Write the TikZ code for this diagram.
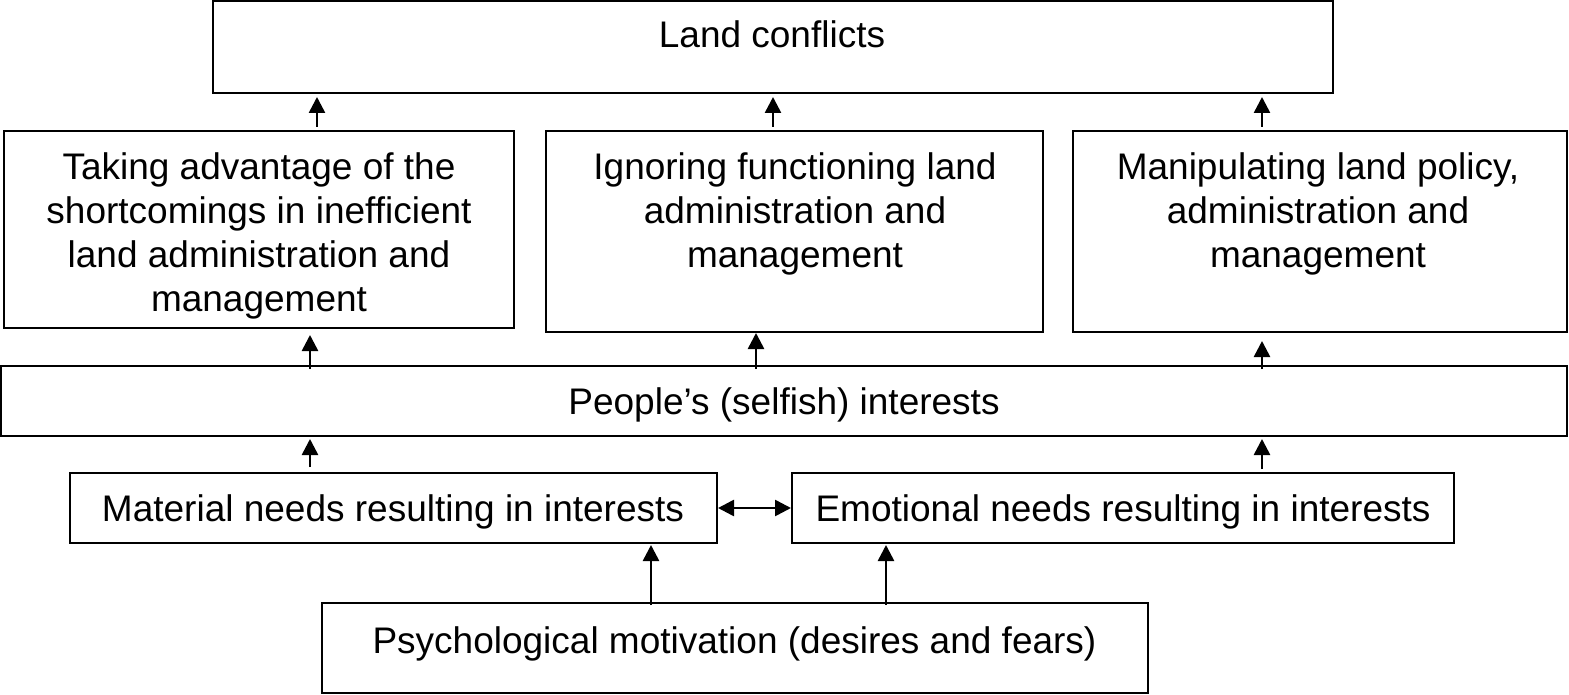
\documentclass[tikz,border=0pt]{standalone}
\usepackage{fontspec}
\setmainfont{Liberation Sans}
\usetikzlibrary{arrows.meta}
\begin{document}
\begin{tikzpicture}[x=1pt,y=-1pt,
  box/.style={draw, line width=2pt, inner sep=0pt},
  txt/.style={font=\fontsize{37}{44}\selectfont, align=center, inner sep=0pt},
  arr/.style={line width=2.6pt, -{Triangle[width=16pt,length=16pt]}},
  darr/.style={line width=2.6pt, {Triangle[width=16pt,length=16pt]}-{Triangle[width=16pt,length=16pt]}}]
\useasboundingbox (0,0) rectangle (1569,695);
% boxes
\node[box, minimum width=1120pt, minimum height=92pt] (land) at (773,47) {};
\node[box, minimum width=510pt, minimum height=197pt] (b1) at (259,229.5) {};
\node[box, minimum width=497pt, minimum height=201pt] (b2) at (794.5,231.5) {};
\node[box, minimum width=494pt, minimum height=201pt] (b3) at (1320,231.5) {};
\node[box, minimum width=1566pt, minimum height=70pt] (ppl) at (784,401) {};
\node[box, minimum width=647pt, minimum height=70pt] (mat) at (393.5,508) {};
\node[box, minimum width=662pt, minimum height=70pt] (emo) at (1123,508) {};
\node[box, minimum width=826pt, minimum height=90pt] (psy) at (735,648) {};
% texts
\node[txt, anchor=base] (tland) at (772,48) {Land conflicts};
\node[txt] (tb1) at (259,235.5) {Taking advantage of the\\shortcomings in inefficient\\land administration and\\management};
\node[txt] (tb2) at (795,213.5) {Ignoring functioning land\\administration and\\management};
\node[txt] (tb3) at (1318,213.5) {Manipulating land policy,\\administration and\\management};
\node[txt, anchor=base] (tppl) at (784,414) {People’s (selfish) interests};
\node[txt, anchor=base] (tmat) at (393,521) {Material needs resulting in interests};
\node[txt, anchor=base] (temo) at (1123,521) {Emotional needs resulting in interests};
\node[txt, anchor=base] (tpsy) at (734.5,653) {Psychological motivation (desires and fears)};
% arrow x positions
\coordinate (xa) at (317,0);
\coordinate (xb) at (773,0);
\coordinate (xc) at (1262,0);
\coordinate (xd) at (310,0);
\coordinate (xe) at (756,0);
\coordinate (xg) at (651,0);
\coordinate (xh) at (886,0);
% arrows
\draw[arr, shorten <=3pt, shorten >=3pt] (b1.north -| xa) -- (land.south -| xa);
\draw[arr, shorten <=3pt, shorten >=3pt] (b2.north -| xb) -- (land.south -| xb);
\draw[arr, shorten <=3pt, shorten >=3pt] (b3.north -| xc) -- (land.south -| xc);
\draw[arr, shorten <=-4pt, shorten >=6pt] (ppl.north -| xd) -- (b1.south -| xd);
\draw[arr, shorten <=-4pt, shorten >=0pt] (ppl.north -| xe) -- (b2.south -| xe);
\draw[arr, shorten <=-4pt, shorten >=8pt] (ppl.north -| xc) -- (b3.south -| xc);
\draw[arr, shorten <=5pt, shorten >=2pt] (mat.north -| xd) -- (ppl.south -| xd);
\draw[arr, shorten <=3pt, shorten >=2pt] (emo.north -| xc) -- (ppl.south -| xc);
\draw[arr, shorten <=-3pt, shorten >=1pt] (psy.north -| xg) -- (mat.south -| xg);
\draw[arr, shorten <=-3pt, shorten >=1pt] (psy.north -| xh) -- (emo.south -| xh);
\draw[darr] (mat.east) -- (emo.west);
\end{tikzpicture}
\end{document}
